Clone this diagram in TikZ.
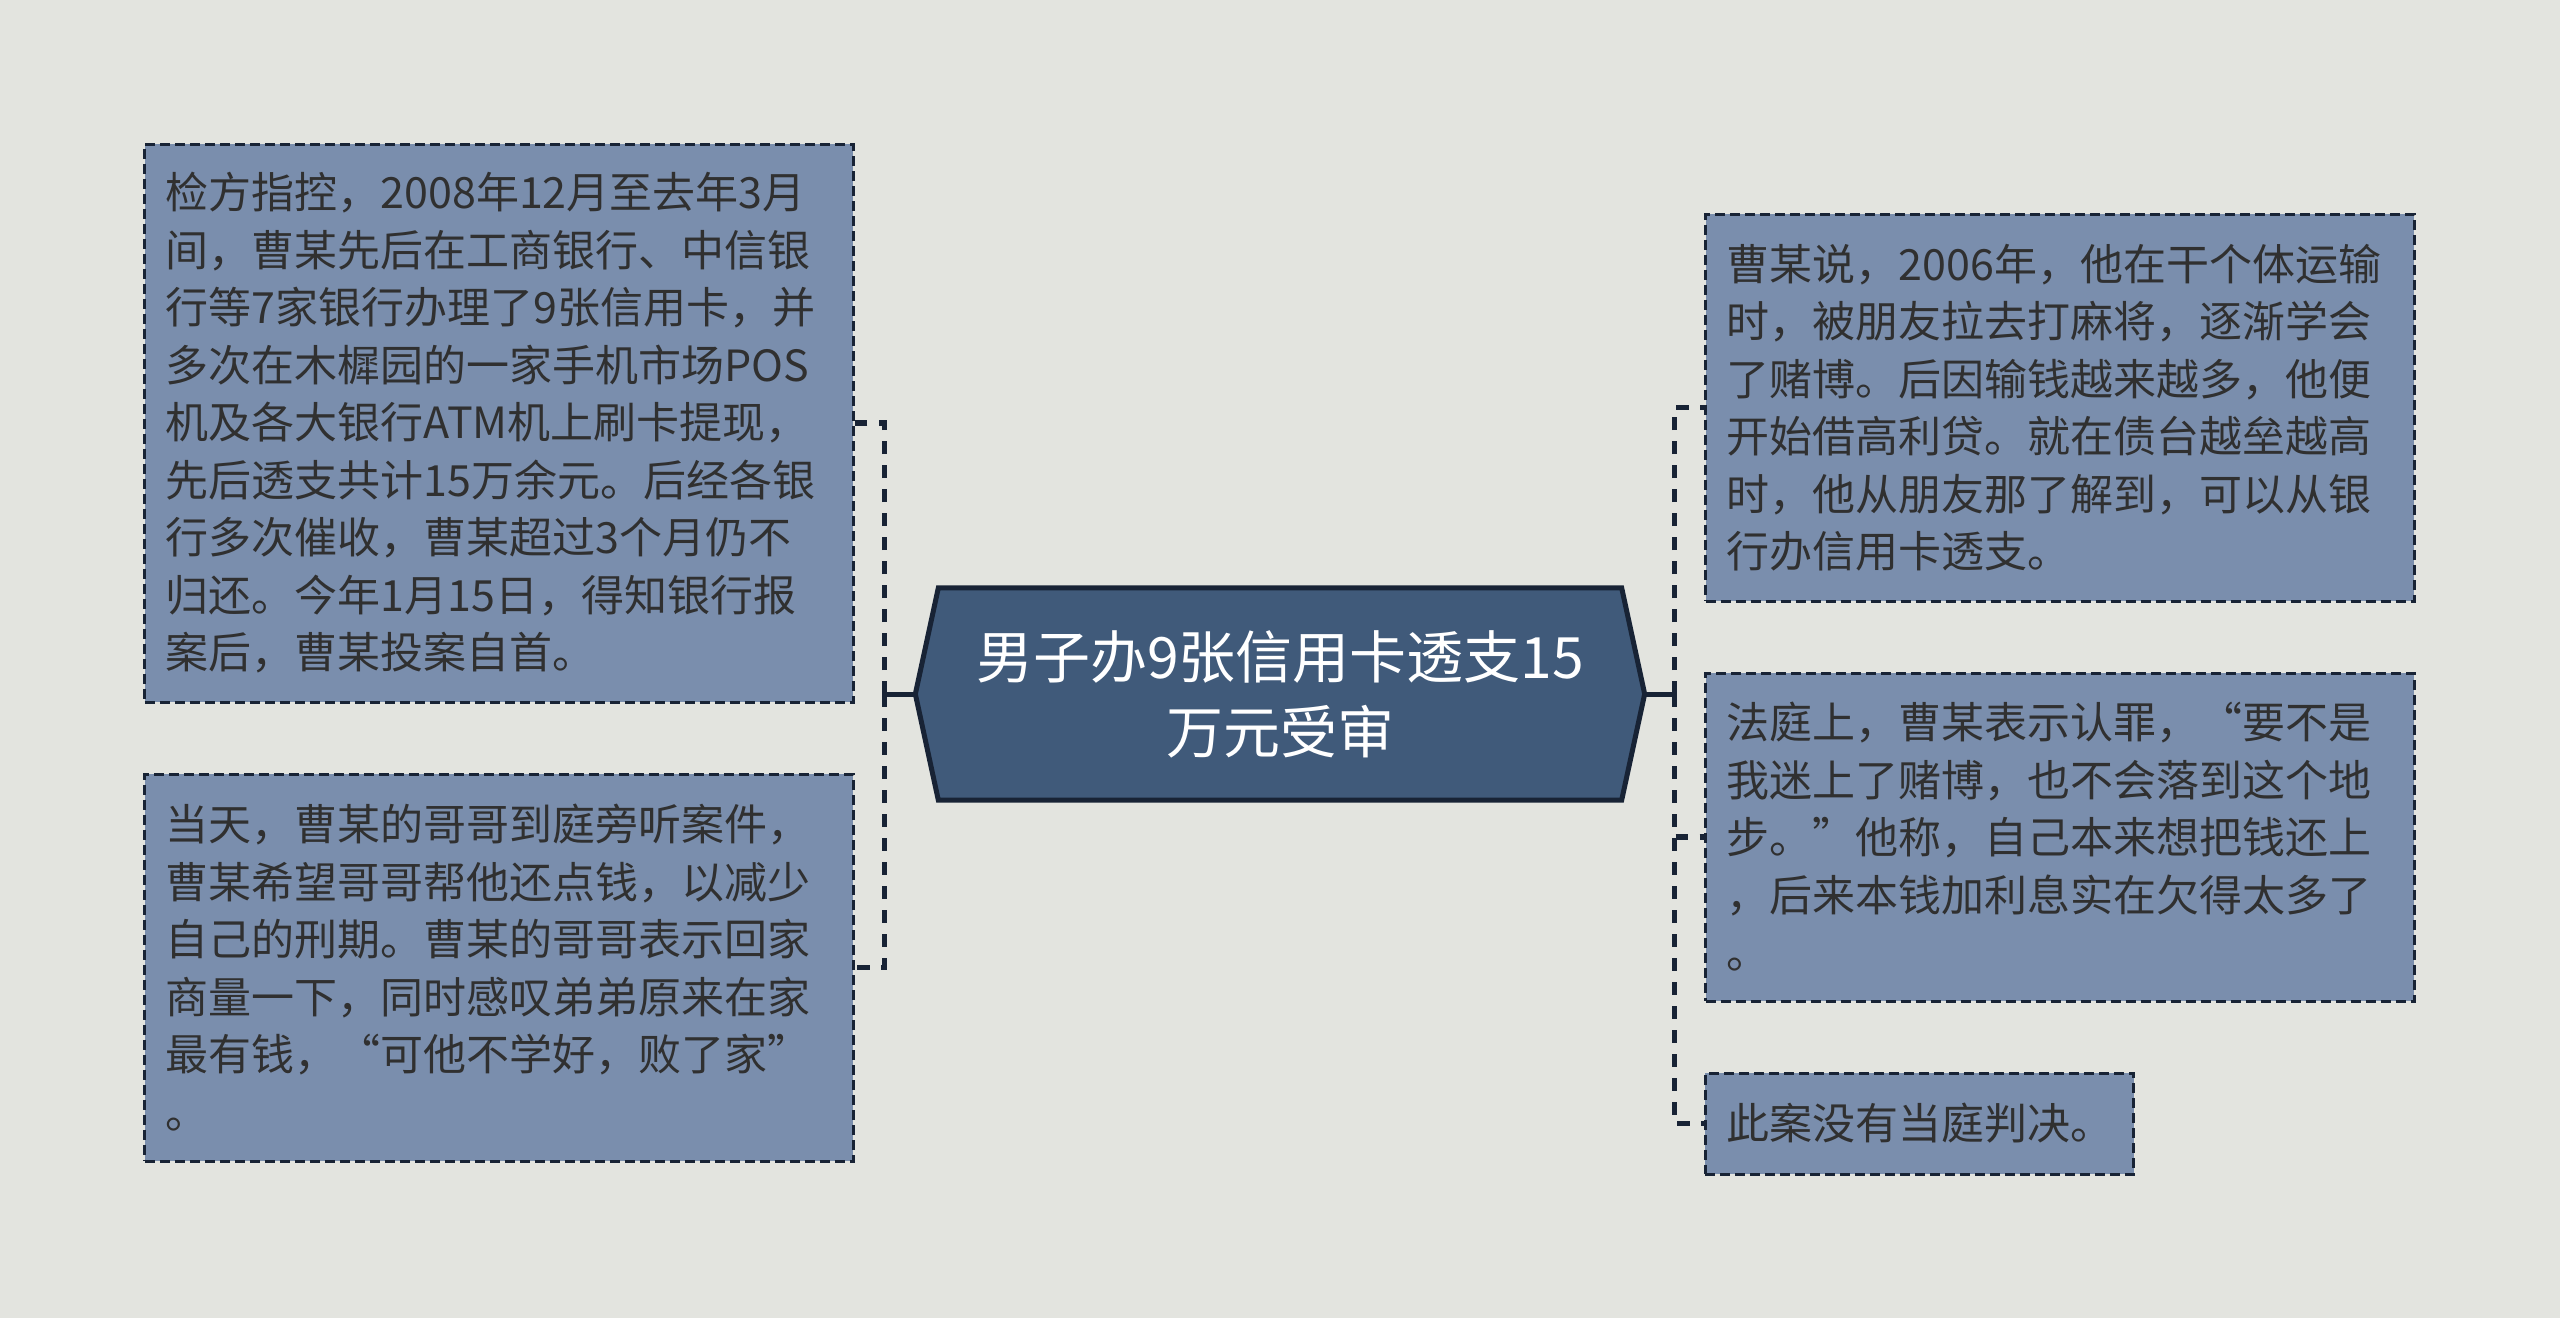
\documentclass[tikz,border=0pt]{standalone}
\usepackage{fontspec}
\setmainfont{Noto Sans CJK SC}
\usetikzlibrary{backgrounds}
\definecolor{bgcol}{HTML}{E3E4DF}
\definecolor{boxfill}{HTML}{7A8EAD}
\definecolor{rootfill}{HTML}{405A7A}
\definecolor{edgecol}{HTML}{182335}
\definecolor{txtcol}{HTML}{303030}

\begin{document}
\begin{tikzpicture}[
  x=0.3pt, y=-0.3pt,
  box/.style={draw=edgecol, fill=boxfill, line width=0.9pt, dash pattern=on 3pt off 1.5pt, rectangle, align=left, inner xsep=6.3pt, inner ysep=0pt, text width=200pt, text=txtcol, font=\fontsize{12.9pt}{17.25pt}\selectfont},
  root/.style={rectangle, align=center, minimum width=218.4pt, minimum height=63.3pt, text=white, font=\fontsize{17.1pt}{22.5pt}\selectfont},
  link/.style={draw=edgecol, line width=1.5pt},
  dlink/.style={link, line width=1.6pt, dash pattern=on 3.8pt off 3.4pt}
]
\useasboundingbox (0,0) rectangle (2560,1318);
\node[root] (root) at (1280,694) {男子办9张信用卡透支15\\万元受审};
\node[box, minimum height=167.4pt] (charge) at (499,423) {检方指控，2008年12月至去年3月\\间，曹某先后在工商银行、中信银\\行等7家银行办理了9张信用卡，并\\多次在木樨园的一家手机市场POS\\机及各大银行ATM机上刷卡提现，\\先后透支共计15万余元。后经各银\\行多次催收，曹某超过3个月仍不\\归还。今年1月15日，得知银行报\\案后，曹某投案自首。};
\node[box, minimum height=116.1pt] (brother) at (499,967.5) {当天，曹某的哥哥到庭旁听案件，\\曹某希望哥哥帮他还点钱，以减少\\自己的刑期。曹某的哥哥表示回家\\商量一下，同时感叹弟弟原来在家\\最有钱，“可他不学好，败了家”\\。};
\node[box, minimum height=116.1pt] (story) at (2060,407.5) {曹某说，2006年，他在干个体运输\\时，被朋友拉去打麻将，逐渐学会\\了赌博。后因输钱越来越多，他便\\开始借高利贷。就在债台越垒越高\\时，他从朋友那了解到，可以从银\\行办信用卡透支。};
\node[box, minimum height=98.4pt] (court) at (2060,837) {法庭上，曹某表示认罪，“要不是\\我迷上了赌博，也不会落到这个地\\步。”他称，自己本来想把钱还上\\，后来本钱加利息实在欠得太多了\\。};
\node[box, minimum height=30.3pt, text width=116pt] (verdict) at (1919.5,1123.5) {此案没有当庭判决。};
\begin{scope}[on background layer]
\fill[bgcol] (0,0) rectangle (2560,1318);
\draw[edgecol, fill=rootfill, line width=1.5pt] ([xshift=6.9pt]root.north west) -- ([xshift=-6.9pt]root.north east) -- (root.east) -- ([xshift=-6.9pt]root.south east) -- ([xshift=6.9pt]root.south west) -- (root.west) -- cycle;
\end{scope}
\coordinate (lspine) at ([xshift=-9.3pt]root.west);
\coordinate (rspine) at ([xshift=9pt]root.east);
\draw[link] (root.west) -- (lspine);
\draw[link] ([yshift=3pt]lspine) -- ([yshift=-3pt]lspine);
\draw[link] (root.east) -- (rspine);
\draw[link] ([yshift=3pt]rspine) -- ([yshift=-3pt]rspine);
\draw[dlink] (lspine) |- (charge.east);
\draw[dlink] (lspine) |- (brother.east);
\draw[dlink] (rspine) |- (story.west);
\draw[dlink] (rspine) |- (court.west);
\draw[dlink] (rspine) |- (verdict.west);
\end{tikzpicture}
\end{document}
